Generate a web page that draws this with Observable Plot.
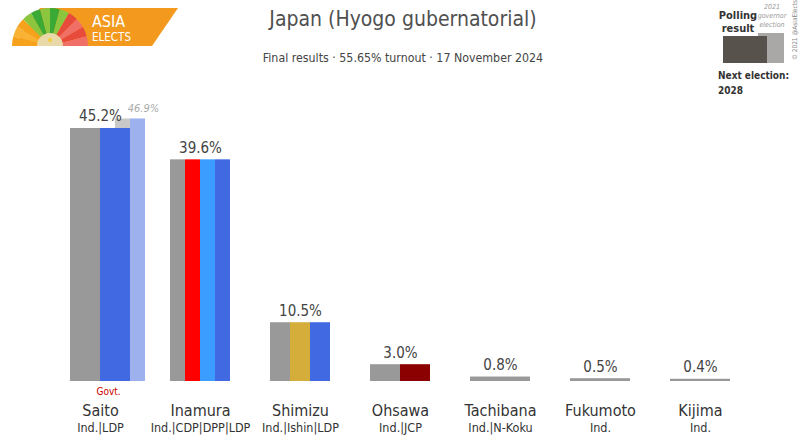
<!DOCTYPE html>
<html>
<head>
<meta charset="utf-8">
<script src="https://cdn.jsdelivr.net/npm/d3@7"></script>
<script src="https://cdn.jsdelivr.net/npm/@observablehq/plot@0.6"></script>
<style>
  body { margin: 0; background: #fff; font-family: "DejaVu Sans Condensed", "Liberation Sans Narrow", sans-serif; }
  #wrap { position: relative; width: 800px; height: 440px; overflow: hidden; }
  #chart { position: absolute; left: 0; top: 0; }
  #title { position: absolute; left: 3px; width: 800px; top: 7px; text-align: center; font-size: 21px; color: #505050; }
  #subtitle { position: absolute; left: 3px; width: 800px; top: 51px; text-align: center; font-size: 12.3px; color: #444; }
  #deco { position: absolute; left: 0; top: 0; }
</style>
</head>
<body>
<div id="wrap">
  <div id="chart"></div>
  <div id="title">Japan (Hyogo gubernatorial)</div>
  <div id="subtitle">Final results · 55.65% turnout · 17 November 2024</div>
  <svg id="deco" width="800" height="100" xmlns="http://www.w3.org/2000/svg"></svg>
</div>
<script>
// ---- data ----
const candidates = ["Saito", "Inamura", "Shimizu", "Ohsawa", "Tachibana", "Fukumoto", "Kijima"];
const parties = ["Ind.|LDP", "Ind.|CDP|DPP|LDP", "Ind.|Ishin|LDP", "Ind.|JCP", "Ind.|N-Koku", "Ind.", "Ind."];
const results = [45.2, 39.6, 10.5, 3.0, 0.8, 0.5, 0.4];
const partyColors = [
  ["#999999", "#4169e1"],
  ["#999999", "#ff0000", "#3a9dff", "#4169e1"],
  ["#999999", "#d4ad3a", "#4169e1"],
  ["#999999", "#8b0000"],
  ["#999999"],
  ["#999999"],
  ["#999999"]
];
const prevCandidate = "Saito";
const prevResult = 46.9;
const prevColors = ["#c9c9c9", "#9db1ef"];
const govtCandidate = "Saito";

// ---- build segments ----
const barW = 0.6;
const segs = [];
candidates.forEach((c, i) => {
  const cols = partyColors[i];
  const w = barW / cols.length;
  cols.forEach((col, k) => {
    segs.push({x1: i - barW / 2 + k * w, x2: i - barW / 2 + (k + 1) * w, y: results[i], fill: col});
  });
});
const pi = candidates.indexOf(prevCandidate);
const prevSegs = prevColors.map((col, k) => ({
  x1: pi + 0.15 + k * 0.15, x2: pi + 0.30 + k * 0.15, y: prevResult, fill: col
}));
const labels = candidates.map((c, i) => ({i, name: c, party: parties[i], v: results[i]}));
const gi = candidates.indexOf(govtCandidate);

const font = "DejaVu Sans Condensed, Liberation Sans Narrow, sans-serif";

const chart = Plot.plot({
  width: 800,
  height: 440,
  marginTop: 100,
  marginBottom: 59,
  marginLeft: 0,
  marginRight: 0,
  x: {domain: [-1, 7], axis: null},
  y: {domain: [0, 50.2], axis: null},
  style: {fontFamily: font, background: "transparent"},
  marks: [
    Plot.rectY(prevSegs, {x1: "x1", x2: "x2", y1: 0, y2: "y", fill: "fill"}),
    Plot.rectY(segs, {x1: "x1", x2: "x2", y1: 0, y2: "y", fill: "fill"}),
    Plot.text(labels, {x: "i", y: "v", text: d => d.v.toFixed(1) + "%", dy: -12, fontSize: 15, fill: "#444"}),
    Plot.text([{x: pi + 0.43, y: prevResult}], {x: "x", y: "y", text: d => d.y.toFixed(1) + "%", dy: -11, fontSize: 11, fontStyle: "italic", fill: "#aaa"}),
    Plot.text([{x: gi + 0.08, y: 0}], {x: "x", y: "y", text: ["Govt."], dy: 10, fontSize: 10, fill: "#cc0000"}),
    Plot.text(labels, {x: "i", y: 0, text: "name", dy: 29, fontSize: 16, fill: "#333"}),
    Plot.text(labels, {x: "i", y: 0, text: "party", dy: 46, fontSize: 12.5, fill: "#333"})
  ]
});
document.getElementById("chart").appendChild(chart);

// ---- decorations: logo and legend ----
const deco = d3.select("#deco");
deco.append("polygon").attr("points", "40,8 178,8 152,46 14,46").attr("fill", "#f39a1e");
const cx = 50, cy = 46, r = 38;
const rayColors = ["#f7a21d", "#f9b233", "#f7a21d", "#8cc63f", "#3aa935", "#8cc63f", "#3aa935", "#8cc63f", "#e84b3c", "#f07067", "#e84b3c", "#f07067"];
const n = rayColors.length;
rayColors.forEach((col, k) => {
  const a0 = Math.PI + (k / n) * Math.PI, a1 = Math.PI + ((k + 1) / n) * Math.PI;
  deco.append("path")
    .attr("d", `M${cx},${cy} L${cx + r * Math.cos(a0)},${cy + r * Math.sin(a0)} A${r},${r} 0 0 1 ${cx + r * Math.cos(a1)},${cy + r * Math.sin(a1)} Z`)
    .attr("fill", col);
});
deco.append("path").attr("d", `M${cx - 13},${cy} A13,13 0 0 1 ${cx + 13},${cy} Z`).attr("fill", "#ead9a8");
deco.append("circle").attr("cx", cx).attr("cy", cy - 6).attr("r", 2).attr("fill", "#f4d03f");
deco.append("text").attr("x", 92).attr("y", 27).text("ASIA").attr("fill", "#fff").attr("font-size", 16).attr("font-family", font);
deco.append("text").attr("x", 92).attr("y", 41).text("ELECTS").attr("fill", "#fff").attr("font-size", 11.5).attr("font-family", font);

deco.append("rect").attr("x", 758).attr("y", 33).attr("width", 26).attr("height", 30).attr("fill", "#aaa8a6");
deco.append("rect").attr("x", 723).attr("y", 36).attr("width", 44).attr("height", 27).attr("fill", "#58524d");
deco.append("text").attr("x", 738).attr("y", 19).attr("text-anchor", "middle").text("Polling").attr("font-size", 11).attr("font-weight", "bold").attr("fill", "#333").attr("font-family", font);
deco.append("text").attr("x", 738).attr("y", 32).attr("text-anchor", "middle").text("result").attr("font-size", 11).attr("font-weight", "bold").attr("fill", "#333").attr("font-family", font);
["2021", "governor", "election"].forEach((t, k) => {
  deco.append("text").attr("x", 772).attr("y", 9 + k * 9).attr("text-anchor", "middle").text(t)
    .attr("font-size", 7).attr("font-style", "italic").attr("fill", "#999").attr("font-family", font);
});
deco.append("text").attr("x", 718).attr("y", 79).text("Next election:").attr("font-size", 10).attr("font-weight", "bold").attr("fill", "#333").attr("font-family", font);
deco.append("text").attr("x", 718).attr("y", 94).text("2028").attr("font-size", 10).attr("font-weight", "bold").attr("fill", "#333").attr("font-family", font);
deco.append("text").attr("transform", "translate(797,60) rotate(-90)").text("© 2021 @AsiaElects").attr("font-size", 6.5).attr("fill", "#888").attr("font-family", font);
</script>
</body>
</html>
